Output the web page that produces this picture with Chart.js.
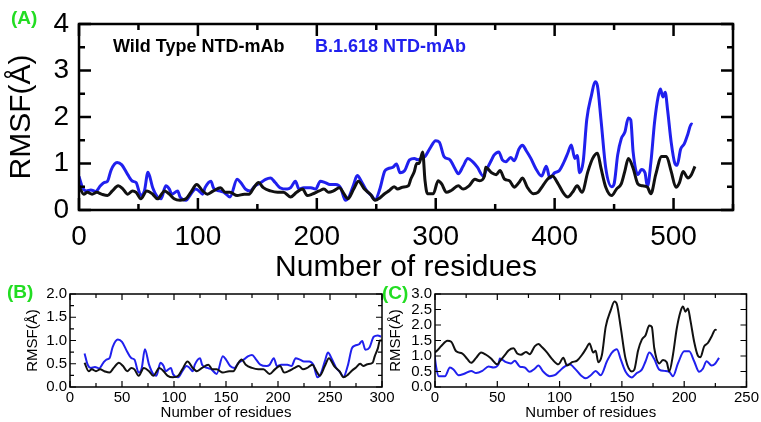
<!DOCTYPE html>
<html>
<head>
<meta charset="utf-8">
<script src="https://cdn.jsdelivr.net/npm/chart.js@4.4.1/dist/chart.umd.min.js"></script>
<style>
  body { margin: 0; background: #fff; }
  #wrap { position: relative; width: 761px; height: 422px; overflow: hidden; background: #fff; }
  canvas { position: absolute; }
  #chartA { left: 0; top: 0; }
  #chartB { left: 0; top: 280px; }
  #chartC { left: 385px; top: 280px; }
  .tag { position: absolute; font: bold 19px 'Liberation Sans', Arial, sans-serif; line-height: 19px; color: #22dd22; z-index: 5; }
  .legend { position: absolute; font: bold 18px 'Liberation Sans', Arial, sans-serif; line-height: 18px; white-space: nowrap; z-index: 5; }
</style>
</head>
<body>
<div id="wrap">
  <canvas id="chartA" width="761" height="290"></canvas>
  <canvas id="chartB" width="400" height="142"></canvas>
  <canvas id="chartC" width="376" height="142"></canvas>
  <div class="tag" style="left:11px;top:8px">(A)</div>
  <div class="tag" style="left:7px;top:282px">(B)</div>
  <div class="tag" style="left:382px;top:283px">(C)</div>
  <div class="legend" style="left:113px;top:37px;color:#000">Wild Type NTD-mAb</div>
  <div class="legend" style="left:315px;top:37px;color:#2020ee">B.1.618 NTD-mAb</div>
</div>
<script>
// Data: residue index -> RMSF (Å)
const wtResidue = [
  0, 4, 7, 11, 15, 19, 24, 28, 33, 37,
  41, 45, 48, 52, 57, 62, 66, 72, 76, 80,
  85, 90, 94, 99, 104, 108, 113, 119, 123, 127,
  133, 139, 143, 147, 151, 155, 161, 167, 172, 178,
  183, 188, 192, 196, 202, 206, 210, 214, 219, 223,
  226, 231, 235, 240, 245, 249, 253, 257, 261, 265,
  268, 272, 277, 279, 282, 284, 286, 289, 291, 293,
  298, 302, 305, 309, 313, 319, 323, 328, 333, 337,
  341, 342, 347, 351, 354, 358, 362, 366, 370, 373,
  377, 382, 386, 390, 394, 398, 403, 407, 411, 415,
  419, 423, 428, 432, 436, 439, 443, 448, 452, 456,
  459, 462, 466, 470, 474, 478, 481, 485, 490, 494,
  498, 502, 505, 508, 512, 515, 518
];
const wtRmsf = [
  0.52, 0.34, 0.38, 0.34, 0.38, 0.34, 0.31, 0.41, 0.52, 0.45,
  0.34, 0.41, 0.38, 0.24, 0.41, 0.34, 0.24, 0.41, 0.34, 0.24,
  0.21, 0.24, 0.38, 0.55, 0.41, 0.34, 0.41, 0.48, 0.38, 0.38,
  0.31, 0.34, 0.34, 0.48, 0.59, 0.48, 0.41, 0.38, 0.38, 0.28,
  0.38, 0.45, 0.31, 0.34, 0.41, 0.45, 0.38, 0.41, 0.48, 0.34,
  0.24, 0.45, 0.62, 0.45, 0.34, 0.21, 0.26, 0.35, 0.42, 0.50,
  0.45, 0.49, 0.52, 0.66, 0.83, 1.00, 1.00, 1.25, 0.63, 0.35,
  0.35, 0.63, 0.56, 0.38, 0.42, 0.52, 0.45, 0.52, 0.66, 0.63,
  0.73, 0.92, 0.80, 0.76, 0.85, 0.66, 0.63, 0.49, 0.59, 0.69,
  0.49, 0.35, 0.38, 0.52, 0.66, 0.73, 0.56, 0.38, 0.28, 0.38,
  0.52, 0.38, 0.83, 1.11, 1.22, 0.90, 0.49, 0.31, 0.45, 0.56,
  0.83, 1.11, 0.90, 0.56, 0.52, 0.49, 0.35, 0.76, 1.15, 1.15,
  0.83, 0.49, 0.59, 0.83, 0.69, 0.76, 0.94
];
const mutResidue = [
  0, 3, 6, 10, 14, 18, 21, 24, 27, 32,
  36, 41, 45, 48, 52, 55, 58, 62, 66, 69,
  73, 76, 78, 83, 85, 90, 94, 98, 101, 104,
  106, 111, 113, 118, 122, 127, 133, 136, 140, 144,
  148, 153, 157, 161, 165, 169, 175, 178, 182, 185,
  189, 195, 199, 203, 207, 211, 216, 220, 224, 227,
  231, 234, 238, 242, 246, 249, 253, 257, 260, 264,
  267, 270, 274, 278, 282, 285, 288, 291, 295, 300,
  303, 307, 312, 316, 319, 323, 327, 331, 335, 340,
  342, 347, 349, 353, 356, 359, 363, 366, 370, 373,
  376, 380, 384, 389, 393, 396, 400, 404, 408, 411,
  414, 417, 419, 421, 424, 427, 431, 434, 436, 439,
  443, 448, 450, 453, 456, 459, 462, 464, 466, 470,
  473, 476, 478, 481, 484, 487, 489, 491, 493, 495,
  498, 501, 503, 506, 509, 512, 515, 516
];
const mutRmsf = [
  0.72, 0.48, 0.41, 0.43, 0.40, 0.52, 0.59, 0.62, 0.86, 1.02,
  0.97, 0.76, 0.62, 0.59, 0.31, 0.41, 0.81, 0.48, 0.28, 0.24,
  0.52, 0.45, 0.34, 0.41, 0.28, 0.21, 0.34, 0.45, 0.41, 0.34,
  0.48, 0.62, 0.48, 0.41, 0.38, 0.28, 0.66, 0.59, 0.45, 0.41,
  0.52, 0.59, 0.66, 0.69, 0.59, 0.48, 0.45, 0.48, 0.62, 0.45,
  0.48, 0.48, 0.45, 0.62, 0.59, 0.55, 0.55, 0.48, 0.21, 0.28,
  0.55, 0.74, 0.59, 0.41, 0.31, 0.22, 0.45, 0.83, 0.89, 0.92,
  0.99, 0.80, 0.85, 1.08, 1.11, 1.08, 1.11, 1.15, 1.32, 1.49,
  1.46, 1.15, 1.08, 0.90, 0.78, 0.94, 1.11, 1.04, 0.92, 0.73,
  0.83, 1.08, 1.18, 1.25, 1.08, 1.04, 1.13, 1.06, 1.31, 1.39,
  1.28, 1.11, 0.90, 0.73, 0.94, 0.69, 0.80, 0.85, 1.04, 1.22,
  1.40, 1.11, 1.17, 0.80, 1.04, 1.94, 2.47, 2.76, 2.67, 1.94,
  0.90, 0.50, 0.56, 1.18, 1.53, 1.67, 1.98, 1.94, 1.25, 0.76,
  0.87, 0.80, 0.50, 1.04, 1.88, 2.43, 2.60, 2.43, 2.53, 2.15,
  1.46, 1.01, 0.96, 1.31, 1.42, 1.63, 1.85, 1.84
];

// Panel (B) numbers residues from 14, panel (C) starts at residue index 290
const B_SHIFT = 14;
const C_SHIFT = -290;

const BLACK = '#111111';
const BLUE = '#2020ee';
const FONT = "'Liberation Sans', Arial, sans-serif";

function points(res, val, shift, lo, hi) {
    const out = [];
    res.forEach((r, i) => {
        const x = r + shift;
        if (x >= lo && x <= hi) out.push({ x: x, y: val[i] });
    });
    return out;
}

// Box frame plus inward ticks on all four sides
const frameTicks = {
    id: 'frameTicks',
    afterDatasetsDraw(chart, args, opts) {
        const { ctx, chartArea: a, scales: { x, y } } = chart;
        ctx.save();
        ctx.strokeStyle = '#000';
        ctx.lineWidth = opts.tickWidth;
        ctx.beginPath();
        x.ticks.forEach(t => {
            const px = x.getPixelForValue(t.value);
            const len = t.label !== '' ? opts.major : opts.minor;
            ctx.moveTo(px, a.bottom); ctx.lineTo(px, a.bottom - len);
            ctx.moveTo(px, a.top); ctx.lineTo(px, a.top + len);
        });
        y.ticks.forEach(t => {
            const py = y.getPixelForValue(t.value);
            const len = t.label !== '' ? opts.major : opts.minor;
            ctx.moveTo(a.left, py); ctx.lineTo(a.left + len, py);
            ctx.moveTo(a.right, py); ctx.lineTo(a.right - len, py);
        });
        ctx.stroke();
        ctx.lineWidth = opts.frameWidth;
        ctx.strokeRect(a.left, a.top, a.right - a.left, a.bottom - a.top);
        ctx.restore();
    }
};

function panel(canvasId, datasets, p) {
    return new Chart(document.getElementById(canvasId), {
        type: 'line',
        data: { datasets: datasets },
        options: {
            responsive: false,
            animation: false,
            devicePixelRatio: 1,
            layout: { padding: p.pad },
            plugins: {
                legend: { display: false },
                tooltip: { enabled: false },
                frameTicks: p.frame
            },
            elements: {
                point: { radius: 0 },
                line: { borderWidth: p.lineWidth, cubicInterpolationMode: 'monotone' }
            },
            scales: {
                x: {
                    type: 'linear', min: p.xMin, max: p.xMax,
                    afterFit: s => { s.height = p.xHeight; },
                    grid: { display: false, drawTicks: false },
                    border: { display: false },
                    ticks: {
                        stepSize: p.xStep, autoSkip: false, maxRotation: 0,
                        padding: p.xTickPad, color: '#000',
                        font: { family: FONT, size: p.tickSize },
                        callback: p.xLabel
                    },
                    title: {
                        display: true, text: 'Number of residues', color: '#000',
                        font: { family: FONT, size: p.titleSize },
                        padding: { top: 0, bottom: p.xTitlePad }
                    }
                },
                y: {
                    min: 0, max: p.yMax,
                    afterFit: s => { s.width = p.yWidth; },
                    grid: { display: false, drawTicks: false },
                    border: { display: false },
                    ticks: {
                        stepSize: p.yStep, autoSkip: false,
                        padding: p.yTickPad, color: '#000',
                        font: { family: FONT, size: p.tickSize, lineHeight: 1 },
                        callback: p.yLabel
                    },
                    title: {
                        display: true, text: 'RMSF(Å)', color: '#000',
                        font: { family: FONT, size: p.titleSize },
                        padding: { top: p.yTitlePad, bottom: 0 }
                    }
                }
            }
        },
        plugins: [frameTicks]
    });
}

// (A) full range
panel('chartA', [
    { label: 'Wild Type NTD-mAb', data: points(wtResidue, wtRmsf, 0, 0, 550), borderColor: BLACK },
    { label: 'B.1.618 NTD-mAb', data: points(mutResidue, mutRmsf, 0, 0, 550), borderColor: BLUE }
], {
    pad: { left: 0, top: 15, right: 28, bottom: 0 },
    xMin: 0, xMax: 550, xStep: 50, xHeight: 80, xTickPad: 10, xTitlePad: 4,
    xLabel: v => (v % 100 === 0 && v <= 500) ? String(v) : '',
    yMax: 4, yStep: 0.5, yWidth: 79, yTickPad: 10, yTitlePad: 4,
    yLabel: v => Number.isInteger(v) ? String(v) : '',
    tickSize: 28, titleSize: 30, lineWidth: 3,
    frame: { major: 12, minor: 6, tickWidth: 2.5, frameWidth: 2.5 }
});

// (B) first part, residues 14-300
panel('chartB', [
    { label: 'Wild Type NTD-mAb', data: points(wtResidue, wtRmsf, B_SHIFT, 0, 300), borderColor: BLACK },
    { label: 'B.1.618 NTD-mAb', data: points(mutResidue, mutRmsf, B_SHIFT, 0, 300), borderColor: BLUE }
], {
    pad: { left: 0, top: 14, right: 18, bottom: 0 },
    xMin: 0, xMax: 300, xStep: 25, xHeight: 35, xTickPad: 2, xTitlePad: 0,
    xLabel: v => v % 50 === 0 ? String(v) : '',
    yMax: 2, yStep: 0.25, yWidth: 70, yTickPad: 3, yTitlePad: 24,
    yLabel: v => (v * 2) % 1 === 0 ? v.toFixed(1) : '',
    tickSize: 15, titleSize: 15, lineWidth: 2,
    frame: { major: 6, minor: 4, tickWidth: 1.2, frameWidth: 1.5 }
});

// (C) second part, colours swapped as in the figure
panel('chartC', [
    { label: 'B.1.618 NTD-mAb', data: points(mutResidue, mutRmsf, C_SHIFT, -3, 250), borderColor: BLACK },
    { label: 'Wild Type NTD-mAb', data: points(wtResidue, wtRmsf, C_SHIFT, -3, 250), borderColor: BLUE }
], {
    pad: { left: 0, top: 14, right: 14, bottom: 0 },
    xMin: 0, xMax: 250, xStep: 25, xHeight: 35, xTickPad: 2, xTitlePad: 0,
    xLabel: v => v % 50 === 0 ? String(v) : '',
    yMax: 3, yStep: 0.5, yWidth: 50, yTickPad: 3, yTitlePad: 2,
    yLabel: v => v.toFixed(1),
    tickSize: 15, titleSize: 15, lineWidth: 2,
    frame: { major: 6, minor: 4, tickWidth: 1.2, frameWidth: 1.5 }
});
</script>
</body>
</html>
